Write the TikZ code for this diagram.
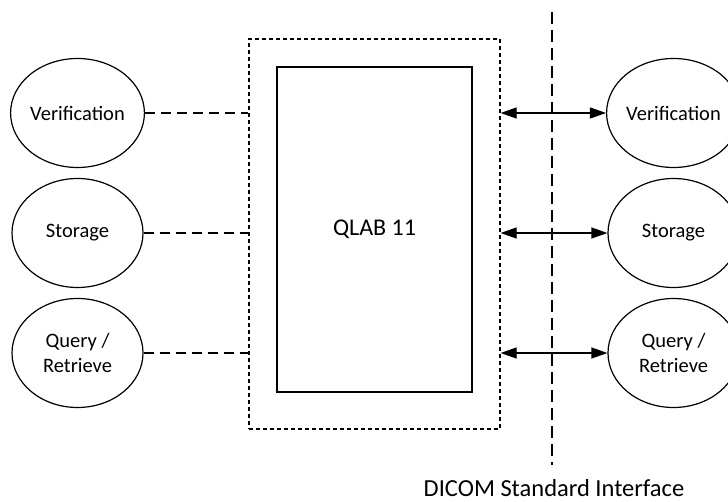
\documentclass[tikz,border=0pt]{standalone}
\usepackage{fontspec}
\setmainfont{Carlito}
\usetikzlibrary{shapes,arrows.meta,positioning}

\tikzset{
    service/.style={
        draw,
        ellipse,
        line width=1.2pt,
        minimum width=131pt,
        minimum height=109pt,
        inner sep=0pt,
        align=center
        },
    link/.style={
        line width=1.2pt,
        dash pattern=on 10pt off 6pt
        },
    dicomlink/.style={
        line width=1.2pt,
        {Triangle[length=16pt,width=11pt]}-{Triangle[length=16pt,width=11pt]}
        }
}

\begin{document}
\begin{tikzpicture}[x=1pt,y=-1pt,font=\fontsize{20.5}{25}\selectfont]
                \useasboundingbox (0,0) rectangle (728,502);

                % application with its services
                \node[
                    draw,
                    line width=1.2pt,
                    dash pattern=on 4pt off 3pt,
                    minimum width=251pt,
                    minimum height=390pt,
                    inner sep=0pt
                    ] (app) at (374.5,234) {};

                \node[
                    draw,
                    line width=1.2pt,
                    minimum width=195pt,
                    minimum height=325pt,
                    inner sep=0pt,
                    font=\fontsize{24}{29}\selectfont
                    ] (qlab) at (374.5,229.5) {QLAB 11};

                \node[service] (lverif) at (77.5,113) {Verification};
                \node[service] (lstore) at (77.5,233) {Storage};
                \node[service] (lquery) at (77.5,353) {Query /\\Retrieve};

                \draw[link] (lverif.east) -- (lverif -| app.west);
                \draw[link] (lstore.east) -- (lstore -| app.west);
                \draw[link] (lquery.east) -- (lquery -| app.west);

                % interface line
                \coordinate (itop) at (552,12);
                \coordinate (ibot) at (552,465);
                \draw[
                    line width=1.2pt,
                    dash pattern=on 12pt off 6pt
                    ] (itop) -- (ibot);

                \node[font=\fontsize{24.5}{29}\selectfont] (iface) at (554,488) {DICOM Standard Interface};

                % remote services
                \node[service] (rverif) at (673.5,113) {Verification};
                \node[service] (rstore) at (673.5,233) {Storage};
                \node[service] (rquery) at (673.5,353) {Query /\\Retrieve};

                \draw[dicomlink] (rverif -| app.east) -- (rverif.west);
                \draw[dicomlink] (rstore -| app.east) -- (rstore.west);
                \draw[dicomlink] (rquery -| app.east) -- (rquery.west);

            \end{tikzpicture}
\end{document}
